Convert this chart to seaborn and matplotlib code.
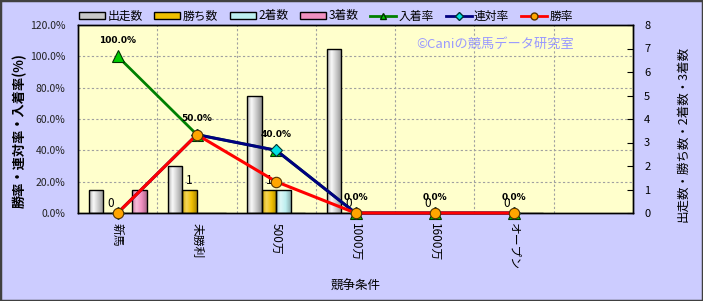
import numpy as np
import pandas as pd
import matplotlib
matplotlib.use('Agg')
import matplotlib.pyplot as plt
import seaborn as sns
from matplotlib.patches import Patch, Rectangle
from matplotlib.lines import Line2D
from matplotlib.colors import to_rgb

# ---------------- data ----------------
categories = ['新馬', '未勝利', '500万', '1000万', '1600万', 'オープン']
starts = [1, 2, 5, 7, 0, 0]
wins = [0, 1, 1, 0, 0, 0]
seconds = [0, 0, 1, 0, 0, 0]
thirds = [1, 0, 0, 0, 0, 0]
place_rate = [100.0, 50.0, 40.0, 0.0, 0.0, 0.0]
rentai_rate = [0.0, 50.0, 40.0, 0.0, 0.0, 0.0]
win_rate = [0.0, 50.0, 20.0, 0.0, 0.0, 0.0]
bar_series = ['出走数', '勝ち数', '2着数', '3着数']
line_series = ['入着率', '連対率', '勝率']
pct_ticks = [0, 20, 40, 60, 80, 100, 120]
count_ticks = [0, 1, 2, 3, 4, 5, 6, 7, 8]

# ---------------- style ----------------
plt.rcParams['font.family'] = ['Noto Sans CJK JP', 'DejaVu Sans']
bar_colors = {'出走数': '#C8C8C8', '勝ち数': '#F0C000', '2着数': '#BDEFF0', '3着数': '#F090C0'}
bar_light = {'出走数': 0.9, '勝ち数': 0.35, '2着数': 0.5, '3着数': 0.4}
BG = '#CCCCFF'
PLOT_BG = '#FFFFCC'

fig = plt.figure(figsize=(7.03, 3.01), dpi=100, facecolor=BG)
ax_bar = fig.add_axes([78 / 703, 88 / 301, 555 / 703, 188 / 301])
ax_bar.set_facecolor(PLOT_BG)

df = pd.DataFrame({
    '条件': categories * len(bar_series),
    '系列': [s for s in bar_series for _ in categories],
    '数': starts + wins + seconds + thirds,
})

sns.barplot(data=df, x='条件', y='数', hue='系列', order=categories,
            hue_order=bar_series, palette=bar_colors, saturation=1,
            width=0.73, edgecolor='black', linewidth=1.0, errorbar=None,
            legend=False, ax=ax_bar, zorder=2)

# labels on win-count bars
for cont in ax_bar.containers:
    fc = to_rgb(cont.patches[0].get_facecolor())
    if np.allclose(fc, to_rgb(bar_colors['勝ち数']), atol=0.01):
        ax_bar.bar_label(cont, labels=[str(v) for v in wins], padding=2,
                         fontsize=8.5, color='black')

# cylinder-like gradient inside each bar
for patch in list(ax_bar.patches):
    h = patch.get_height()
    if h <= 0:
        continue
    base = np.array(to_rgb(patch.get_facecolor()))
    name = [k for k, v in bar_colors.items() if np.allclose(to_rgb(v), base, atol=0.01)][0]
    lf = bar_light[name]
    light = base + (1 - base) * lf
    dark = base * 0.72
    t = np.linspace(0, 1, 64)
    stops_t = [0.0, 0.3, 0.65, 1.0]
    stops_c = [0.5 * base + 0.5 * dark, light, base, dark]
    img = np.zeros((1, len(t), 3))
    for k in range(3):
        img[0, :, k] = np.interp(t, stops_t, [c[k] for c in stops_c])
    x0, y0 = patch.get_x(), patch.get_y()
    w = patch.get_width()
    im = ax_bar.imshow(img, extent=(x0, x0 + w, y0, y0 + h), aspect='auto',
                       origin='lower', interpolation='bilinear', zorder=2)
    im.set_clip_path(patch)
    patch.set_facecolor('none')
    patch.set_zorder(2.1)

# grid lines (behind bars)
for p in pct_ticks[1:-1]:
    ax_bar.axhline(p * count_ticks[-1] / pct_ticks[-1], color='#A0A0A0',
                   ls=(0, (2, 2)), lw=0.8, zorder=0.5)
for i in range(len(categories)):
    ax_bar.axvline(i + 0.5, color='#A0A0A0', ls=(0, (2, 2)), lw=0.8, zorder=0.5)

ax_bar.set_xlabel('競争条件', fontsize=9, labelpad=7)
ax_bar.tick_params(axis='x', length=0, labelsize=8.5, pad=7, labelrotation=-90)

# ---------------- lines ----------------
ax_line = ax_bar.twinx()
xpos = np.arange(len(categories))
sns.lineplot(x=xpos, y=place_rate, ax=ax_line, color='#008000', lw=2,
             marker='^', markersize=8, markerfacecolor='#00CC00',
             markeredgecolor='#003300', markeredgewidth=0.8, clip_on=False, zorder=3)
sns.lineplot(x=xpos, y=rentai_rate, ax=ax_line, color='#000080', lw=2.2,
             marker='D', markersize=6.5, markerfacecolor='#00E0E0',
             markeredgecolor='#003333', markeredgewidth=0.8, clip_on=False, zorder=4)
sns.lineplot(x=xpos, y=win_rate, ax=ax_line, color='#FF0000', lw=2.2,
             marker='o', markersize=7.5, markerfacecolor='#FFA500',
             markeredgecolor='#553300', markeredgewidth=0.8, clip_on=False, zorder=5)

for x, v in zip(xpos, place_rate):
    ax_line.annotate(f'{v:.1f}%', (x, v), xytext=(0, 11.5), textcoords='offset points',
                     ha='center', va='center', fontsize=6.5, fontweight='bold',
                     family=['DejaVu Sans'], color='black')

# axis sides: counts on the right, percentages on the left
ax_bar.set_ylim(count_ticks[0], count_ticks[-1])
ax_bar.set_yticks(count_ticks)
ax_bar.yaxis.tick_right()
ax_bar.yaxis.set_label_position('right')
ax_bar.tick_params(axis='y', direction='in', length=4, labelsize=8, pad=8,
                   colors='black', left=False, labelleft=False,
                   right=True, labelright=True)
ax_bar.set_ylabel('出走数・勝ち数・2着数・3着数', fontsize=9)
ax_bar.yaxis.set_label_coords(1.079, 0.42)

ax_line.set_ylim(pct_ticks[0], pct_ticks[-1])
ax_line.set_yticks(pct_ticks)
ax_line.set_yticklabels([f'{p:.1f}%' for p in pct_ticks])
ax_line.yaxis.tick_left()
ax_line.yaxis.set_label_position('left')
ax_line.tick_params(axis='y', length=0, labelsize=7.5, pad=9, colors='#222222',
                    right=False, labelright=False, left=True, labelleft=True)
ax_line.set_ylabel('勝率・連対率・入着率(%)', fontsize=9.5, fontweight='bold')
ax_line.yaxis.set_label_coords(-0.092, 0.44)

ax_bar.set_xlim(-0.5, len(categories) + 0.5)
for ax in (ax_bar, ax_line):
    for s in ax.spines.values():
        s.set_color('black')
        s.set_linewidth(1.0)

# watermark
ax_line.text(0.61, 0.895, '©Caniの競馬データ研究室', transform=ax_line.transAxes,
             fontsize=9.5, color='#9999FF', ha='left', va='center')

# legend
handles = [Patch(facecolor=bar_colors[s], edgecolor='black', lw=1) for s in bar_series]
handles += [
    Line2D([], [], color='#008000', lw=2, marker='^', markersize=5,
           markerfacecolor='#00CC00', markeredgecolor='#003300'),
    Line2D([], [], color='#000080', lw=2, marker='D', markersize=4,
           markerfacecolor='#00E0E0', markeredgecolor='#003333'),
    Line2D([], [], color='#FF0000', lw=2, marker='o', markersize=5,
           markerfacecolor='#FFA500', markeredgecolor='#553300'),
]
fig.legend(handles, bar_series + line_series, loc='center',
           bbox_to_anchor=(0.4637, 1 - 16 / 301), ncol=7, frameon=False,
           fontsize=8.5, handlelength=2.2, handleheight=0.5, columnspacing=1.0,
           handletextpad=0.2, borderpad=0, borderaxespad=0)

fig.patches.append(Rectangle((0, 0), 1, 1, transform=fig.transFigure, fill=False,
                             edgecolor='#404040', lw=2.5))

fig.savefig('out.png', dpi=100, facecolor=BG)
